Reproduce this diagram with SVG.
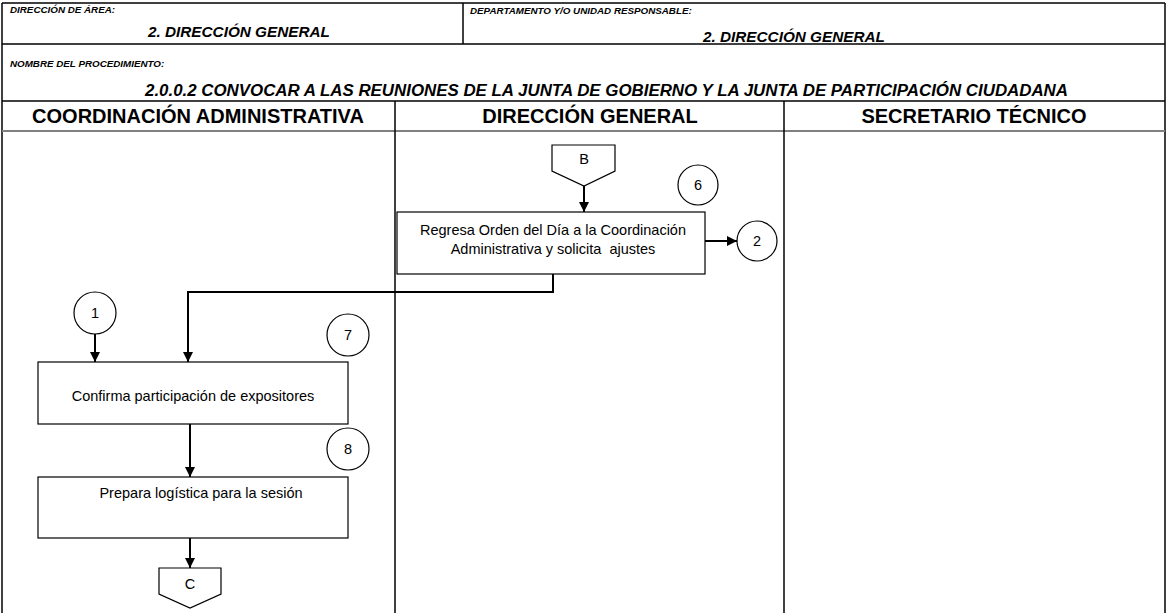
<svg xmlns="http://www.w3.org/2000/svg" width="1166" height="613" viewBox="0 0 1166 613">
<defs>
<marker id="ah" viewBox="0 0 10 10" refX="10" refY="5" markerWidth="10" markerHeight="10" markerUnits="userSpaceOnUse" orient="auto">
<path d="M0,0 L10,5 L0,10 Z" fill="#000"/>
</marker>
</defs>
<style>
.frame{stroke:#000;stroke-width:1.5;fill:none}
.lbl{font-family:"Liberation Sans",Arial,sans-serif;font-weight:bold;font-style:italic;fill:#000}
.hdr{font-family:"Liberation Sans",Arial,sans-serif;font-weight:bold;font-size:20px;fill:#000;text-anchor:middle}
.box{fill:#fff;stroke:#000;stroke-width:1.2}
.txt{font-family:"Liberation Sans",Arial,sans-serif;font-size:14.5px;fill:#000;text-anchor:middle}
.con{fill:none;stroke:#000;stroke-width:2}
</style>
<rect width="1166" height="613" fill="#fff"/>
<g id="header">
<line class="frame" x1="2" y1="3" x2="1165" y2="3"/>
<line class="frame" x1="2" y1="3" x2="2" y2="613"/>
<line class="frame" x1="1165" y1="3" x2="1165" y2="613"/>
<line class="frame" x1="2" y1="44" x2="1165" y2="44"/>
<line class="frame" x1="463" y1="3" x2="463" y2="44"/>
<line class="frame" x1="2" y1="101" x2="1165" y2="101"/>
<line x1="2" y1="131" x2="1165" y2="131" stroke="#808080" stroke-width="2"/>
<line class="frame" x1="395" y1="101" x2="395" y2="613"/>
<line class="frame" x1="784" y1="101" x2="784" y2="613"/>
<text class="lbl" x="10" y="13" font-size="9.8">DIRECCIÓN DE ÁREA:</text>
<text class="lbl" x="148" y="37" font-size="15.3">2. DIRECCIÓN GENERAL</text>
<text class="lbl" x="470" y="14" font-size="9.8">DEPARTAMENTO Y/O UNIDAD RESPONSABLE:</text>
<text class="lbl" x="703" y="42" font-size="15.3">2. DIRECCIÓN GENERAL</text>
<text class="lbl" x="10" y="67" font-size="9.8">NOMBRE DEL PROCEDIMIENTO:</text>
<text class="lbl" x="145" y="96" font-size="16" textLength="923" lengthAdjust="spacingAndGlyphs">2.0.0.2  CONVOCAR A LAS REUNIONES DE LA JUNTA DE GOBIERNO Y LA JUNTA DE PARTICIPACIÓN CIUDADANA</text>
<text class="hdr" x="198" y="123">COORDINACIÓN ADMINISTRATIVA</text>
<text class="hdr" x="590" y="123">DIRECCIÓN GENERAL</text>
<text class="hdr" x="974" y="123">SECRETARIO TÉCNICO</text>
</g>
<g id="connectors">
<line class="con" x1="584" y1="186" x2="584" y2="212" marker-end="url(#ah)"/>
<line class="con" x1="705" y1="241" x2="737" y2="241" marker-end="url(#ah)"/>
<polyline class="con" points="553,274 553,292 188,292 188,362" marker-end="url(#ah)"/>
<line class="con" x1="95" y1="334" x2="95" y2="362" marker-end="url(#ah)"/>
<line class="con" x1="190" y1="424" x2="190" y2="477" marker-end="url(#ah)"/>
<line class="con" x1="190" y1="538" x2="190" y2="568" marker-end="url(#ah)"/>
</g>
<g id="conn-B">
<path class="box" d="M552,145 H615 V171 L584,186 L552,171 Z"/>
<text class="txt" x="584" y="164">B</text>
</g>
<g id="step6-box">
<rect class="box" x="397" y="212" width="308" height="62"/>
<text class="txt" x="553" y="235">Regresa Orden del Día a la Coordinación</text>
<text class="txt" x="553" y="254" xml:space="preserve">Administrativa y solicita  ajustes</text>
</g>
<g id="num6">
<circle class="box" cx="698" cy="185" r="20"/>
<text class="txt" x="698" y="190">6</text>
</g>
<g id="conn-2">
<circle class="box" cx="757" cy="241" r="20"/>
<text class="txt" x="757" y="246">2</text>
</g>
<g id="conn-1">
<circle class="box" cx="95" cy="313" r="21"/>
<text class="txt" x="95" y="318">1</text>
</g>
<g id="num7">
<circle class="box" cx="348" cy="335" r="21"/>
<text class="txt" x="348" y="340">7</text>
</g>
<g id="step7-box">
<rect class="box" x="38" y="362" width="310" height="62"/>
<text class="txt" x="193" y="401">Confirma participación de expositores</text>
</g>
<g id="num8">
<circle class="box" cx="348" cy="449" r="21"/>
<text class="txt" x="348" y="454">8</text>
</g>
<g id="step8-box">
<rect class="box" x="38" y="477" width="310" height="61"/>
<text class="txt" x="201" y="498">Prepara logística para la sesión</text>
</g>
<g id="conn-C">
<path class="box" d="M159,568 H221 V594 L190,608 L159,594 Z"/>
<text class="txt" x="190" y="589">C</text>
</g>
</svg>
